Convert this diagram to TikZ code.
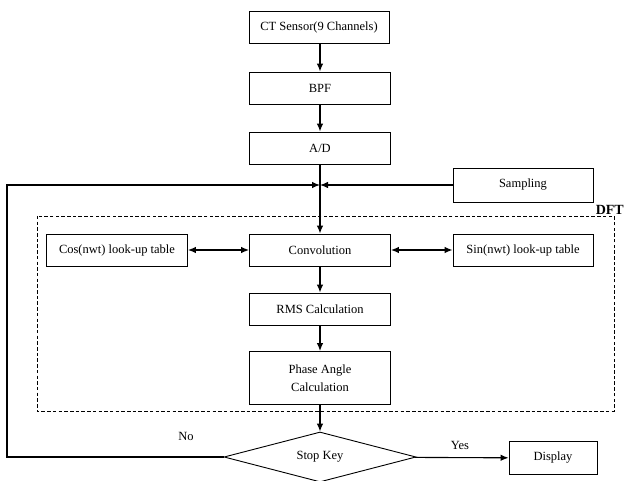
\documentclass[tikz,border=0pt]{standalone}
\usepackage{fontspec}
\setmainfont{Liberation Serif}
\usetikzlibrary{shapes.geometric,arrows.meta}
\begin{document}
\begin{tikzpicture}[x=1pt,y=-1pt,
  lbl/.style={font=\fontsize{12.5}{14}\selectfont},
  box/.style={draw, line width=0.9pt, minimum width=#1, minimum height=32pt, inner sep=0pt, align=center, lbl},
  box/.default=141pt,
  arr/.style={line width=1.1pt, -{Latex[length=8pt,width=6.5pt]}},
  ln/.style={line width=1.1pt},
  dbl/.style={line width=1.1pt, {Latex[length=8pt,width=6.5pt]}-{Latex[length=8pt,width=6.5pt]}}]
\useasboundingbox (0,0) rectangle (625,481);
\node[box=140pt] (ct) at (319,27) {CT Sensor(9 Channels)};
\node[box] (bpf) at (320,88) {BPF};
\node[box] (ad) at (320,148) {A/D};
\coordinate (j) at (320,185);
\node[box=140pt, minimum height=34pt] (samp) at (523,185) {Sampling};
\draw[dash pattern=on 3.5pt off 2.2pt, line width=0.8pt] (37,216) rectangle (614,411);
\node[anchor=south east, inner sep=1pt, font=\bfseries\fontsize{14}{16}\selectfont] (dft) at (625,216) {DFT};
\node[box] (cos) at (117,250) {Cos(nwt) look-up table};
\node[box] (conv) at (320,250) {Convolution};
\node[box=140pt] (sin) at (523,250) {Sin(nwt) look-up table};
\node[box] (rms) at (320,309) {RMS Calculation};
\node[box, minimum height=53pt] (ph) at (320,378) {Phase Angle\\[4pt]Calculation};
\node[draw, line width=0.9pt, diamond, aspect=3.84, minimum width=192pt, minimum height=50pt, inner sep=0pt, lbl] (sk) at (320,457) {Stop Key};
\node[box=88pt, minimum height=33pt] (disp) at (553,458) {Display};
\node[lbl] (yes) at (460,445) {Yes};
\node[lbl] (no) at (186,436) {No};
\coordinate (fb) at (7,457);
\draw[arr] (ct.south -| bpf.north) -- (bpf.north);
\draw[arr] (bpf) -- (ad);
\draw[ln] (ad) -- (j);
\draw[arr] (j) -- (conv);
\draw[arr] (samp) -- (j);
\draw[arr] (sk.west) -- (fb) |- (j);
\draw[dbl] (cos) -- (conv);
\draw[dbl] (conv) -- (sin);
\draw[arr] (conv) -- (rms);
\draw[arr] (rms) -- (ph);
\draw[arr] (ph) -- (sk);
\draw[arr] (sk) -- (disp);
\end{tikzpicture}
\end{document}
